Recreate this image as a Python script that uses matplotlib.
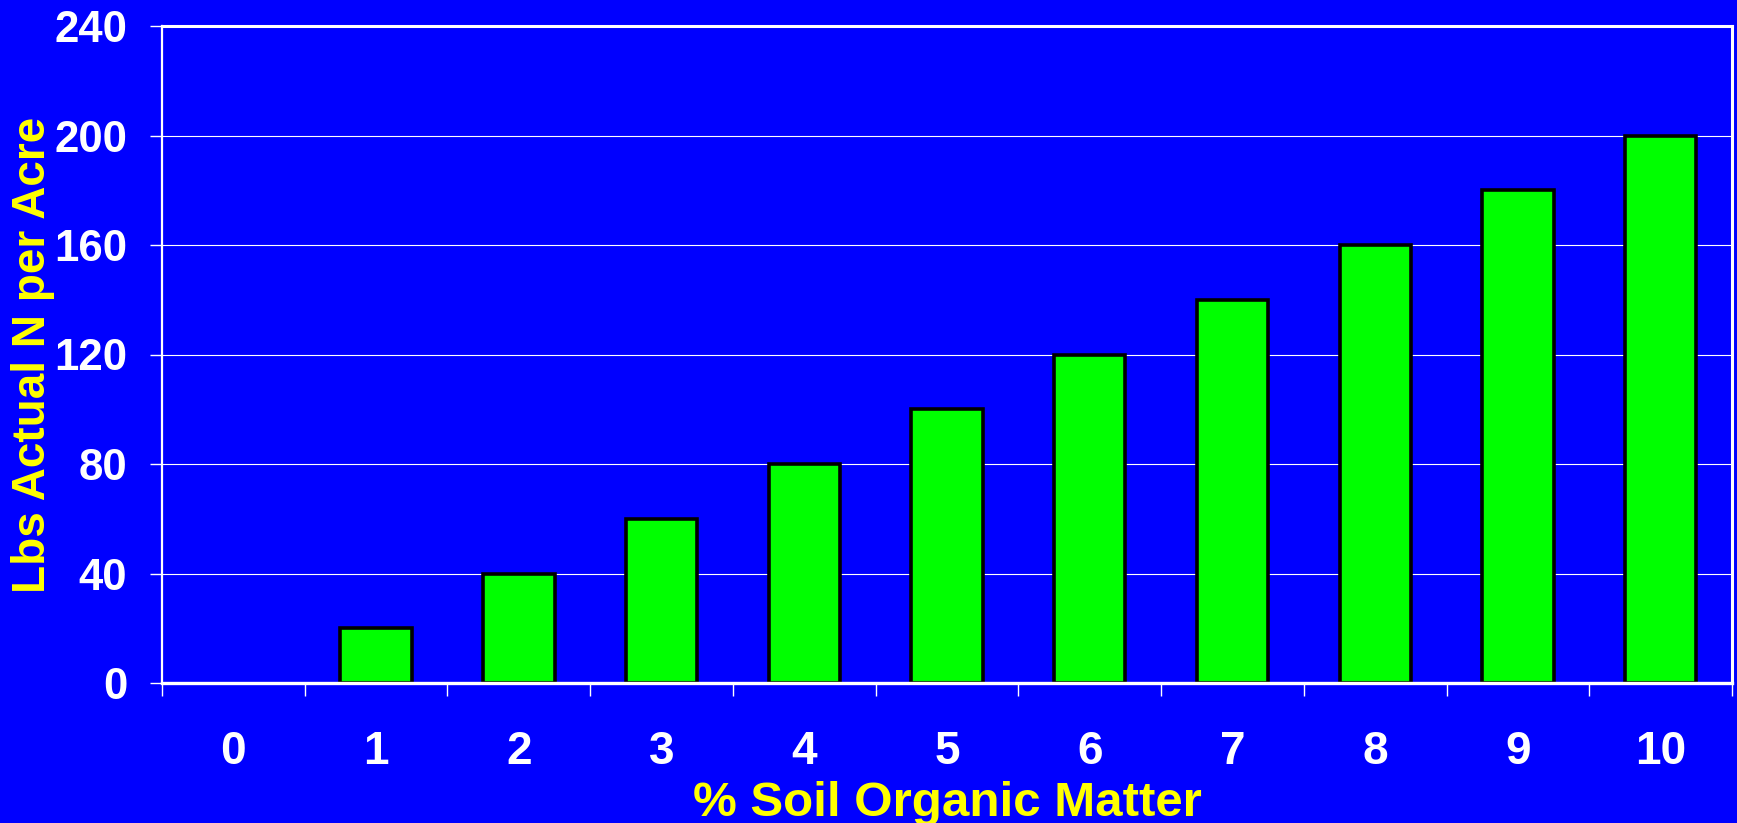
import numpy as np
import matplotlib.pyplot as plt

# % soil organic matter vs. nitrogen released
som_pct = [0, 1, 2, 3, 4, 5, 6, 7, 8, 9, 10]
lbs_n = [0, 20, 40, 60, 80, 100, 120, 140, 160, 180, 200]
y_ticks = [0, 40, 80, 120, 160, 200, 240]

BLUE = '#0000FF'
GREEN = '#00FF00'
YELLOW = '#FFFF00'

plt.rcParams['font.family'] = ['Liberation Sans', 'DejaVu Sans']
plt.rcParams['font.weight'] = 'bold'

fig = plt.figure(figsize=(17.37, 8.23), dpi=100, facecolor=BLUE)
ax = fig.add_axes([162 / 1737, 1 - 683 / 823, 1570 / 1737, 657 / 823])
ax.set_facecolor(BLUE)

x = np.arange(len(som_pct))
edges = ['black' if v > 0 else 'none' for v in lbs_n]
ax.bar(x, lbs_n, width=0.5, color=GREEN, edgecolor=edges, linewidth=2.6, zorder=3)

ax.set_xlim(-0.5, len(som_pct) - 0.5)
ax.set_ylim(0, 240)

# category boundaries get the tick marks, centres get the labels
ax.set_xticks(np.arange(-0.5, len(som_pct), 1.0))
ax.set_xticklabels([])
ax.set_xticks(x, minor=True)
ax.set_xticklabels([str(s) for s in som_pct], minor=True, fontweight='bold')
ax.tick_params(axis='x', which='major', length=9.5, width=1, color='white', direction='out')
ax.tick_params(axis='x', which='minor', length=0, pad=34, labelsize=33, labelcolor='white')

ax.set_yticks(y_ticks)
ax.tick_params(axis='y', length=9, width=1, color='white', direction='out',
               pad=16, labelsize=31.5, labelcolor='white')

ax.yaxis.grid(True, color='white', linewidth=0.8, zorder=0)
ax.set_axisbelow(True)

for side, lw in [('left', 1.6), ('top', 2.2), ('right', 2.2), ('bottom', 2.4)]:
    ax.spines[side].set_color('white')
    ax.spines[side].set_linewidth(lw)
    ax.spines[side].set_zorder(4)

ax.set_xlabel('% Soil Organic Matter', color=YELLOW, fontsize=35.5, fontweight='bold', va='center')
ax.xaxis.set_label_coords(0.5, (683 - 803) / 657)
ax.set_ylabel('Lbs Actual N per Acre', color=YELLOW, fontsize=33, fontweight='bold', va='center')
ax.yaxis.set_label_coords((33 - 162) / 1570, 0.5)

fig.savefig('out.png', dpi=100, facecolor=BLUE)
